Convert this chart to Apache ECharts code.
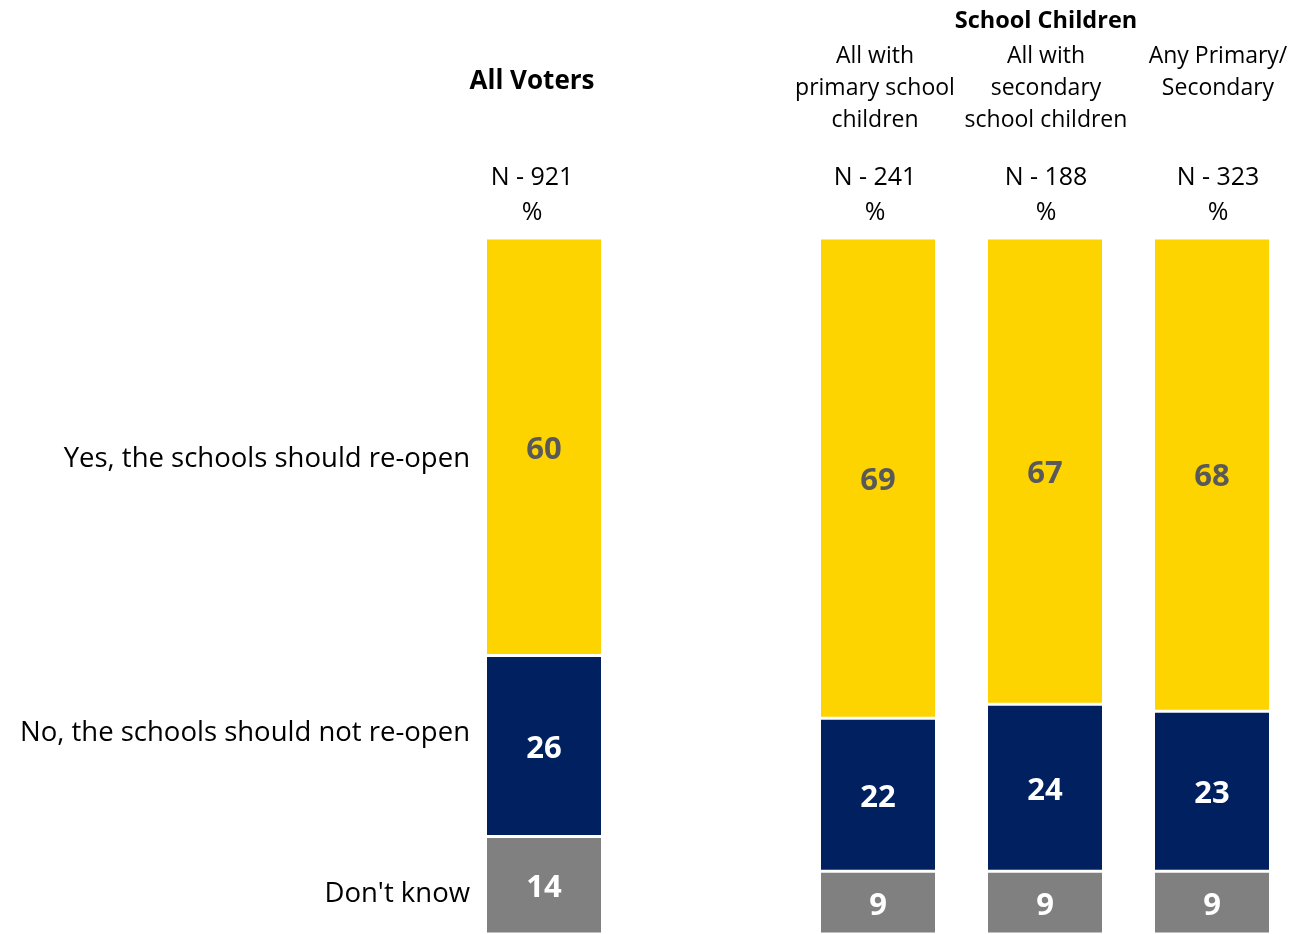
<!DOCTYPE html>
<html>
<head>
<meta charset="utf-8">
<script src="https://cdn.jsdelivr.net/npm/echarts@6/dist/echarts.min.js"></script>
<style>
html,body{margin:0;padding:0;background:#fff;}
#main{width:1303px;height:934px;}
</style>
</head>
<body>
<div id="main"></div>
<script>
// ---- data ----
var categories = ['All Voters', '', 'All with\nprimary school\nchildren', 'All with\nsecondary\nschool children', 'Any Primary/\nSecondary'];
var sampleSizes = ['921', null, '241', '188', '323'];
var seriesNames = ['Yes, the schools should re-open', 'No, the schools should not re-open', "Don't know"];
var yesValues = [60, null, 69, 67, 68];
var noValues = [26, null, 22, 24, 23];
var dkValues = [14, null, 9, 9, 9];
var groupTitle = 'School Children';

var FONT = '"Open Sans", "Noto Sans", sans-serif';
var chart = echarts.init(document.getElementById('main'), null, {renderer: 'canvas'});

function mkSeries(name, data, color, labelColor) {
  return {
    name: name, type: 'bar', stack: 'total', data: data,
    barWidth: 117,
    itemStyle: {color: color, borderColor: '#ffffff', borderWidth: 1.5},
    label: {show: true, position: 'inside', offset: [0, 3], color: labelColor, fontFamily: FONT,
      fontWeight: 'bold', fontSize: 31},
    emphasis: {disabled: true},
    silent: true
  };
}

chart.setOption({
  animation: false,
  grid: {left: 460.5, right: 7.5, top: 238, bottom: -4, containLabel: false},
  xAxis: {type: 'category', data: categories, show: false},
  yAxis: {type: 'value', min: 0, max: 100, show: false, inverse: true},
  series: [
    mkSeries(seriesNames[0], yesValues, '#FDD300', '#595959'),
    mkSeries(seriesNames[1], noValues, '#002060', '#ffffff'),
    mkSeries(seriesNames[2], dkValues, '#808080', '#ffffff')
  ]
});

// ---- header and row labels as text ----
var g = [];
function txt(x, y, s, opts) {
  g.push({type: 'text', x: x, y: y, silent: true, style: Object.assign({
    text: s, fill: '#000', font: '25px ' + FONT, align: 'center', verticalAlign: 'middle', lineHeight: 32
  }, opts || {})});
}
var headerShift = [-12, 0, -3, 1, 6];
categories.forEach(function (c, i) {
  if (!c) return;
  var x = chart.convertToPixel({xAxisIndex: 0}, i) + headerShift[i];
  if (i === 0) {
    txt(x, 82, c, {font: 'bold 26px ' + FONT});
  } else {
    txt(x, 40, c, {font: '23px ' + FONT, verticalAlign: 'top', lineHeight: 32});
  }
  txt(x, 178, 'N - ' + sampleSizes[i]);
  txt(x, 213, '%');
});
var xs = chart.convertToPixel({xAxisIndex: 0}, 3) + 1;
txt(xs, 21, groupTitle, {font: 'bold 23.5px ' + FONT});

var rowY = [459, 733, 894];
seriesNames.forEach(function (n, i) {
  txt(470, rowY[i], n, {align: 'right', font: '27.5px ' + FONT});
});
chart.setOption({graphic: g});
</script>
</body>
</html>
